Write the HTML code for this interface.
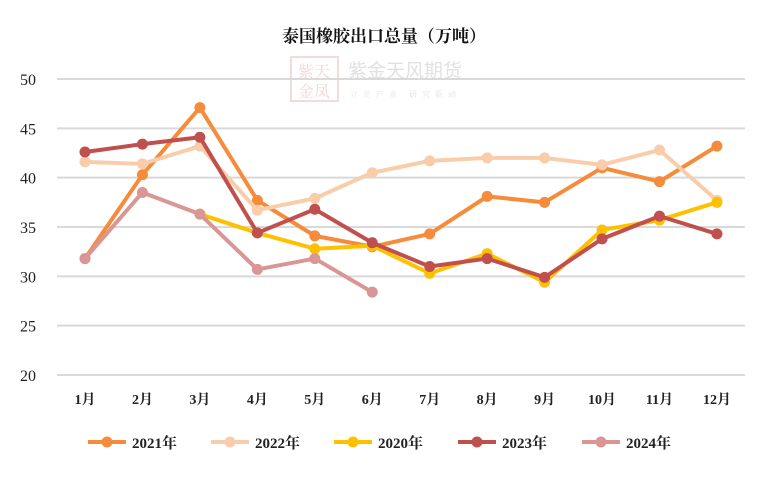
<!DOCTYPE html>
<html><head><meta charset="utf-8"><style>
body{margin:0;background:#fff;}
svg text{font-family:"Liberation Serif","Noto Serif CJK SC",serif;}
</style></head><body>
<svg id="c" width="769" height="475">
<text x="384" y="42" text-anchor="middle" font-size="17" font-weight="bold" fill="#111">泰国橡胶出口总量（万吨）</text>
<g opacity="0.35">
<rect x="291" y="57" width="47" height="44" fill="none" stroke="#d99" stroke-width="2"/>
<text x="314" y="77" text-anchor="middle" font-size="16" fill="#d88">紫天</text>
<text x="314" y="97" text-anchor="middle" font-size="16" fill="#d88">金凤</text>
<text x="348" y="77" font-size="19" fill="#aaa" style="font-family:'Noto Sans CJK SC',sans-serif">紫金天风期货</text>
<text x="350" y="97" font-size="8" fill="#aaa" letter-spacing="5">立足产业 研究驱动</text>
</g>
<g id="grid"></g><g id="lines"></g><g id="legend"></g>
</svg>
<script>
const categories=["1月","2月","3月","4月","5月","6月","7月","8月","9月","10月","11月","12月"];
const yTicks=[20,25,30,35,40,45,50];
const s2021=[31.8,40.3,47.1,37.7,34.1,33.0,34.3,38.1,37.5,41.0,39.6,43.2];
const s2022=[41.6,41.4,43.2,36.7,37.9,40.5,41.7,42.0,42.0,41.3,42.8,37.7];
const s2020=[null,null,36.3,34.4,32.8,33.1,30.3,32.3,29.4,34.7,35.7,37.5];
const s2023=[42.6,43.4,44.1,34.4,36.8,33.4,31.0,31.8,29.9,33.8,36.1,34.3];
const s2024=[31.8,38.5,36.3,30.7,31.8,28.4,null,null,null,null,null,null];
const seriesNames=["2021年","2022年","2020年","2023年","2024年"];
const NS="http://www.w3.org/2000/svg";
function X(i){return 85+i*57.45;}
function Y(v){return 375-(v-20)*(296/30);}
function mk(t,a,p){const e=document.createElementNS(NS,t);for(const k in a)e.setAttribute(k,a[k]);p.appendChild(e);return e;}
const grid=document.getElementById('grid');
yTicks.forEach(v=>{
 const l=mk('line',{x1:57,x2:745,y1:Y(v),y2:Y(v),stroke:'#d9d9d9','stroke-width':2},grid);
 
 
 const t=mk('text',{x:36,y:Y(v)+6,'text-anchor':'end','font-size':16,fill:'#222'},grid);
 t.textContent=v;
 
 
});
categories.forEach((c,i)=>{
 const t=mk('text',{x:X(i),y:404,'text-anchor':'middle','font-size':14,'font-weight':'bold',fill:'#222'},grid);
 t.textContent=c;
 
 
});
const all=[s2021,s2022,s2020,s2023,s2024];
const colors=["#F58B3B","#F9CDAA","#FFC000","#C0504D","#D99694"];
const lines=document.getElementById('lines');
all.forEach((s,k)=>{
 const g=mk('g',{},lines);
 
 
 let d='';
 s.forEach((v,i)=>{if(v==null)return;d+=(d?'L':'M')+X(i)+' '+Y(v);});
 mk('path',{d:d,fill:'none',stroke:colors[k],'stroke-width':4,'stroke-linejoin':'round'},g);
 s.forEach((v,i)=>{if(v==null)return;
  const c=mk('circle',{cx:X(i),cy:Y(v),r:5.5,fill:colors[k]},g);
  
  
 });
});
const lg=document.getElementById('legend');
const lx=[88,211,334,458,582];
seriesNames.forEach((n,k)=>{
 const g=mk('g',{},lg);
 
 
 mk('line',{x1:lx[k],x2:lx[k]+38,y1:442,y2:442,stroke:colors[k],'stroke-width':4},g);
 mk('circle',{cx:lx[k]+19,cy:442,r:5.5,fill:colors[k]},g);
 const t=mk('text',{x:lx[k]+44,y:448,'font-size':15,'font-weight':'bold',fill:'#222'},g);
 t.textContent=n;
});
</script>
</body></html>
